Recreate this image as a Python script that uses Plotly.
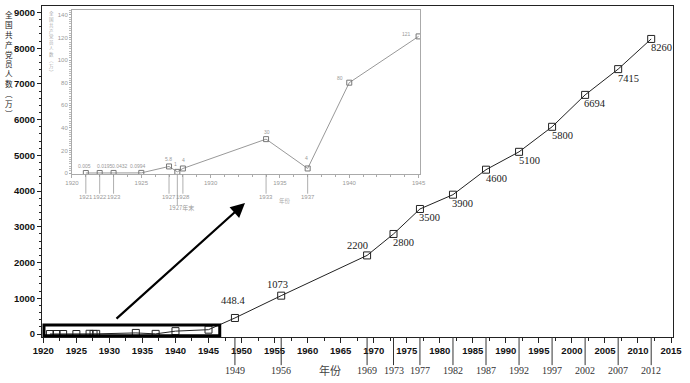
import plotly.graph_objects as go

# ---------------- data ----------------
years_early = [1921, 1922, 1923, 1925, 1927, 1927.6, 1928, 1934, 1937, 1940, 1945]
members_early = [0.005, 0.0195, 0.0432, 0.0994, 5.8, 1, 4, 30, 4, 80, 121]
early_labels = ["0.005", "0.0195", "0.0432", "0.0994", "5.8", "1", "4", "30", "4", "80", "121"]

years_late = [1949, 1956, 1969, 1973, 1977, 1982, 1987, 1992, 1997, 2002, 2007, 2012]
members_late = [448.4, 1073, 2200, 2800, 3500, 3900, 4600, 5100, 5800, 6694, 7415, 8260]
late_labels = ["448.4", "1073", "2200", "2800", "3500", "3900", "4600", "5100", "5800", "6694", "7415", "8260"]

inset_mark_years = [1921, 1922, 1923, 1927, 1928, 1934, 1937]
inset_mark_texts = ["1921", "1922", "1923", "1927", "1928", "1933", "1937"]
inset_end_year = 1927.6
inset_end_text = "1927年末"

y_title_chars = ["全", "国", "共", "产", "党", "员", "人", "数", "︵", "万", "︶"]
x_title = "年份"

years_all = years_early + years_late
members_all = members_early + members_late

# ---------------- figure ----------------
fig = go.Figure()

fig.add_trace(go.Scatter(
    x=years_all, y=members_all, mode="lines+markers",
    line=dict(color="#222", width=1),
    marker=dict(symbol="square-open", size=7, color="#222", line=dict(width=1)),
    xaxis="x", yaxis="y", showlegend=False, hoverinfo="skip"))

fig.add_trace(go.Scatter(
    x=years_early, y=members_early, mode="lines+markers",
    line=dict(color="#999", width=1),
    marker=dict(symbol="square-open", size=5, color="#777", line=dict(width=1)),
    xaxis="x2", yaxis="y2", showlegend=False, hoverinfo="skip"))

serif = "Liberation Serif"
sans = "Liberation Sans"
cjk = "Noto Sans CJK SC"

ann = []
# main value labels
late_shift = {0: (-2, 17), 1: (-4, 11), 2: (-10, 10)}
for i, (yr, v, t) in enumerate(zip(years_late, members_late, late_labels)):
    xs, ys = late_shift.get(i, (10, -9))
    ann.append(dict(x=yr, y=v, xref="x", yref="y", text=t, showarrow=False,
                    xshift=xs, yshift=ys, font=dict(family=serif, size=10.5, color="#222")))

# inset value labels
early_shift = [(-1, 7), (5, 7), (6, 7), (-3, 7), (-1, 7), (-2, 8), (1, 8),
               (1, 7), (-1, 10), (-9, 5), (-12, 2)]
for (yr, v, t), (xs, ys) in zip(zip(years_early, members_early, early_labels), early_shift):
    ann.append(dict(x=yr, y=v, xref="x2", yref="y2", text=t, showarrow=False,
                    xshift=xs, yshift=ys, font=dict(family=sans, size=5, color="#999")))

shapes = []
# main year markers below axis
for yr in years_late:
    shapes.append(dict(type="line", xref="x", yref="paper", x0=yr, x1=yr, y0=0, y1=-0.085,
                       line=dict(color="#333", width=1)))
    ann.append(dict(x=yr, y=-0.1, xref="x", yref="paper", text=str(yr), showarrow=False,
                    yanchor="middle", font=dict(family=serif, size=10, color="#333")))

# inset year markers
for yr, t in zip(inset_mark_years, inset_mark_texts):
    shapes.append(dict(type="line", xref="x2", yref="y2 domain", x0=yr, x1=yr, y0=0, y1=-0.12,
                       line=dict(color="#999", width=0.8)))
    ann.append(dict(x=yr, y=-0.14, xref="x2", yref="y2 domain", text=t, showarrow=False,
                    yanchor="middle", font=dict(family=sans, size=6, color="#999")))
shapes.append(dict(type="line", xref="x2", yref="y2 domain", x0=inset_end_year, x1=inset_end_year,
                   y0=0, y1=-0.19, line=dict(color="#999", width=0.8)))
ann.append(dict(x=inset_end_year, y=-0.207, xref="x2", yref="y2 domain", text=inset_end_text,
                showarrow=False, xshift=4, yanchor="middle",
                font=dict(family=cjk, size=6, color="#999")))

# highlight box around early data
shapes.append(dict(type="rect", xref="x", yref="y", x0=1920.1, x1=1946.7, y0=-50, y1=250,
                   line=dict(color="black", width=3)))

# arrow
ann.append(dict(x=0.3217, y=0.4048, xref="paper", yref="paper", ax=-130, ay=117,
                showarrow=True, arrowhead=2, arrowsize=1.3, arrowwidth=2.2,
                arrowcolor="black", text=""))

# axis titles (vertical stacked characters)
ann.append(dict(x=-0.0523, y=(337 - 8) / 331, xref="paper", yref="paper",
                text="<br>".join(y_title_chars), xanchor="center", yanchor="top",
                borderpad=0, showarrow=False, font=dict(family=cjk, size=7.6, color="#222")))
ann.append(dict(x=0.0158, y=(337 - 9) / 331, xref="paper", yref="paper",
                text="<br>".join(y_title_chars), xanchor="center", yanchor="top",
                borderpad=0, showarrow=False, font=dict(family=cjk, size=4.5, color="#aaa")))
ann.append(dict(x=0.4564, y=-0.1, xref="paper", yref="paper", text=x_title, showarrow=False,
                xanchor="center", yanchor="middle", font=dict(family=cjk, size=11, color="#444")))
ann.append(dict(x=0.385, y=-0.165, xref="paper", yref="y2 domain", text=x_title, showarrow=False,
                xanchor="center", yanchor="middle", font=dict(family=cjk, size=5.5, color="#aaa")))

bold_tick = dict(family=sans, size=9.5, color="#111", weight=700)
fig.update_layout(
    width=690, height=383,
    margin=dict(l=42, r=17, t=6, b=46, autoexpand=False),
    paper_bgcolor="white", plot_bgcolor="white",
    showlegend=False,
    annotations=ann, shapes=shapes,
    xaxis=dict(range=[1919.8, 2015.3], tick0=1920, dtick=5, ticks="outside", ticklen=5,
               tickcolor="#222", minor=dict(dtick=2.5, tick0=1920, ticks="outside", ticklen=3, tickcolor="#222"),
               showline=True, linecolor="#222", linewidth=1, mirror=True, automargin=False,
               showgrid=False, zeroline=False, tickfont=bold_tick),
    yaxis=dict(range=[-84, 9182], tick0=0, dtick=1000, ticks="outside", ticklen=4,
               tickcolor="#222", minor=dict(dtick=200, tick0=0, ticks="outside", ticklen=2, tickcolor="#222"),
               showline=True, linecolor="#222", linewidth=1, mirror=True, automargin=False,
               showgrid=False, zeroline=False, tickfont=bold_tick),
    xaxis2=dict(domain=[0.0475, 0.599], anchor="y2", range=[1920, 1945.1], tick0=1920, dtick=5,
                ticks="outside", ticklen=3, tickcolor="#aaa", automargin=False,
                minor=dict(dtick=1, tick0=1920, ticks="outside", ticklen=2, tickcolor="#aaa"),
                showline=True, linecolor="#aaa", linewidth=1, mirror=True,
                showgrid=False, zeroline=False, tickfont=dict(family=sans, size=6, color="#999")),
    yaxis2=dict(domain=[0.4924, 0.988], anchor="x2", range=[-0.9, 144.4], tick0=0, dtick=20,
                ticks="outside", ticklen=2, tickcolor="#aaa", automargin=False,
                minor=dict(dtick=2, tick0=0, ticks="outside", ticklen=1.5, tickcolor="#bbb"),
                showline=True, linecolor="#aaa", linewidth=1, mirror=True,
                showgrid=False, zeroline=False, tickfont=dict(family=sans, size=6, color="#999")),
)

fig.write_html("out.html", config={"displayModeBar": False},
               post_script="document.body.style.margin='0';")
